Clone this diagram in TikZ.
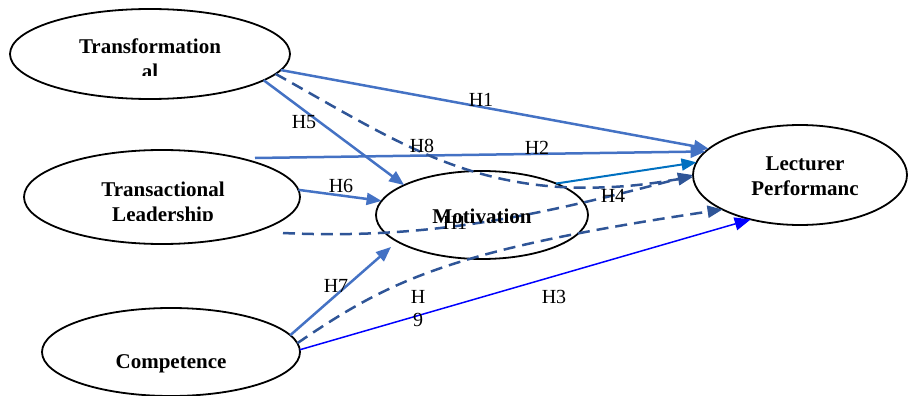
\documentclass[tikz,border=0pt]{standalone}
\usepackage{fontspec}
\setmainfont{Liberation Serif}
\usetikzlibrary{arrows.meta,shapes.geometric}
\definecolor{mblue}{HTML}{4472C4}
\definecolor{dblue}{HTML}{2F5597}
\definecolor{cblue}{HTML}{0070C0}
\definecolor{pblue}{HTML}{0000FF}
\begin{document}
\begin{tikzpicture}[x=1pt,y=-1pt,
  latent/.style={ellipse,draw=black,line width=1.8pt,inner sep=0pt,outer sep=0pt},
  vtxt/.style={font=\fontsize{21}{24}\selectfont\bfseries,inner sep=0pt,anchor=base},
  hlab/.style={font=\fontsize{20}{22}\selectfont,inner sep=0pt},
  tip/.style={-{Triangle[length=15pt,width=12pt]}},
  solidarr/.style={tip,draw=mblue,line width=2.5pt},
  medarr/.style={tip,draw=dblue,line width=2.5pt,dash pattern=on 12pt off 7pt},
]
\useasboundingbox (0,0) rectangle (908,396);

% constructs
\node[latent,minimum width=280,minimum height=90] (T) at (150,54) {};
\node[latent,minimum width=276,minimum height=94] (TL) at (162,197) {};
\node[latent,minimum width=258,minimum height=88] (C) at (171,352) {};
\node[latent,minimum width=212,minimum height=88] (M) at (482,215) {};
\node[latent,minimum width=214,minimum height=100] (L) at (800,175) {};

% free ends
\coordinate (s2) at (255,158);
\coordinate (s11) at (283,233);
\coordinate (e7) at (391,247);

% direct paths
\draw[solidarr] (T.-7) -- (L.164.5);
\draw[solidarr] (s2) -- (L.166);
\draw[solidarr] (T.-13) -- (M.159);
\draw[solidarr] (TL.3) -- (M.172.7);
\draw[solidarr] (C.8.5) -- (e7);
\draw[tip,draw=cblue,line width=2pt] (M.23) -- (L.173.5);
\draw[tip,draw=pblue,line width=1.5pt,-{Triangle[length=16pt,width=13pt]}] (C.1) -- (L.222);

% mediated (dashed) paths
\draw[medarr] (T.-9.5) .. controls (380,132) and (450,180) .. (560,187)
  .. controls (620,190) and (660,182) .. (L.181);
\draw[medarr] (s11) .. controls (430,240) and (540,215) .. (L.180);
\draw[medarr] (C.4.4) .. controls (390,280) and (450,250) .. (L.204.6);

% labels
\node[hlab] (h1) at (481,100) {H1};
\node[hlab] (h2) at (537,148) {H2};
\node[hlab] (h5) at (304,122) {H5};
\node[hlab] (h8) at (422,146) {H8};
\node[hlab] (h6) at (341,186) {H6};
\node[hlab] (h4) at (613,196) {H4};
\node[hlab] (h7) at (336,286) {H7};
\node[hlab] (h9a) at (418,297) {H};
\node[hlab] (h9b) at (418,320) {9};
\node[hlab] (h3) at (554,297) {H3};
\node[hlab] (h11) at (455,223) {H1};

% construct texts
\node[vtxt] (tT1) at (150,54) {Transformation};
\begin{scope}
\clip (0,60) rectangle (300,76);
\node[vtxt] (tT2) at (150,79) {al};
\end{scope}
\node[vtxt] (tTL1) at (163,196) {Transactional};
\begin{scope}
\clip (0,200) rectangle (300,220);
\node[vtxt] (tTL2) at (163,221) {Leadership};
\end{scope}
\node[vtxt] (tC) at (171,368) {Competence};
\node[vtxt] (tM) at (482,223) {Motivation};
\node[vtxt] (tL1) at (805,170) {Lecturer};
\node[vtxt] (tL2) at (805,195) {Performanc};
\end{tikzpicture}
\end{document}
